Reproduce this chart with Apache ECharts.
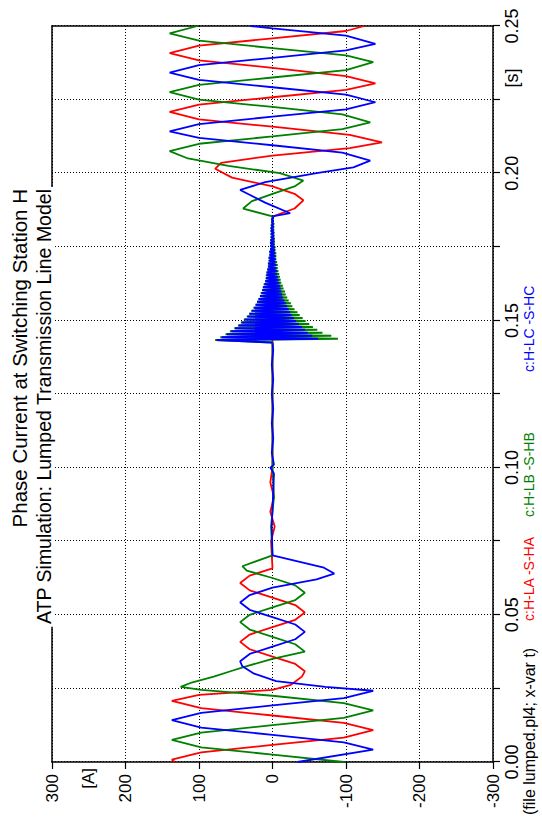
<!DOCTYPE html>
<html>
<head>
<meta charset="utf-8">
<script src="https://cdn.jsdelivr.net/npm/echarts@6/dist/echarts.min.js"></script>
<style>
html,body{margin:0;padding:0;background:#fff;overflow:hidden;}
#wrap{position:absolute;left:0;top:0;width:542px;height:820px;overflow:hidden;background:#fff;}
#chart{position:absolute;left:0;top:0;width:820px;height:542px;transform-origin:0 0;transform:translate(0,820px) rotate(-90deg);}
</style>
</head>
<body>
<div id="wrap"><div id="chart"></div></div>
<script>
// ---- texts ----
const titleLines = ['Phase Current at Switching Station H', 'ATP Simulation: Lumped Transmission Line Model'];
const legendNames = ['c:H-LA -S-HA', 'c:H-LB -S-HB', 'c:H-LC -S-HC'];
const footerText = '(file lumped.pl4; x-var t)';
const timeTickLabels = ['0.00', '0.05', '0.10', '0.15', '0.20', '0.25'];
const currentTickLabels = ['-300', '-200', '-100', '0', '100', '200', '300'];
const timeUnit = '[s]';
const currentUnit = '[A]';

// ---- phase A (red) ----
const tRed = [0,0.0008,0.0033,0.0058,0.0083,0.0108,0.0133,0.0158,0.0183,0.0208,0.0228,0.0245,0.0262,0.0275,0.029,0.0308,0.0333,0.0358,0.0383,0.0408,0.0433,0.0458,0.0483,0.0508,0.0533,0.0558,0.0583,0.0608,0.0633,0.0658,0.075,0.08,0.085,0.09,0.095,0.1,0.1433,0.145,0.15,0.1853,0.188,0.1908,0.193,0.1955,0.1985,0.2015,0.2035,0.206,0.2085,0.2105,0.213,0.2158,0.2183,0.2208,0.2233,0.2258,0.2283,0.2305,0.233,0.2358,0.2383,0.2408,0.2433,0.2458,0.2483,0.25];
const iRed = [133,137,97,0,-97,-137,-97,0,97,137,100,0,-25,-32,-40,-44,-31,0,31,44,31,0,-31,-44,-31,0,31,44,31,0,2,-3,3,-2,3,0,0,3,-2,0,-30,-42,-30,0,55,78,70,0,-105,-149,-105,0,100,140,100,0,-100,-140,-100,0,100,140,100,0,-100,-125];

// ---- phase B (green) ----
const tGreenA = [0,0.0025,0.005,0.0075,0.01,0.0125,0.015,0.0175,0.02,0.0225,0.0245,0.0255,0.027,0.029,0.031,0.0325,0.035,0.0375,0.04,0.0425,0.045,0.0475,0.05,0.0525,0.055,0.0575,0.06,0.0625,0.065,0.0665,0.0702,0.08,0.09,0.1,0.1425];
const iGreenA = [-97,0,97,137,97,0,-97,-137,-97,0,97,125,110,80,55,36,0,-44,-31,0,31,44,31,0,-31,-44,-31,0,35,41,0,2,-2,0,0];
const tGreenB = [0.1853,0.188,0.1905,0.193,0.1955,0.1975,0.2,0.2025,0.205,0.2075,0.21,0.2125,0.215,0.2173,0.22,0.2225,0.225,0.2275,0.23,0.2325,0.235,0.2377,0.24,0.2425,0.245,0.2475,0.25];
const iGreenB = [0,40,28,0,-30,-42,-10,60,115,140,100,0,-95,-133,-95,0,100,140,100,0,-100,-137,-100,0,100,140,102];

// ---- phase C (blue) ----
const tBlueA = [0,0.0042,0.0067,0.0092,0.0117,0.0142,0.0167,0.0192,0.0217,0.0242,0.0255,0.0275,0.03,0.0325,0.0342,0.0367,0.0392,0.0417,0.0442,0.0467,0.0492,0.0517,0.0542,0.0567,0.0592,0.062,0.064,0.066,0.0702,0.08,0.098,0.1,0.101,0.105,0.11,0.115,0.12,0.125,0.13,0.135,0.14,0.1425];
const iBlueA = [-34,-137,-97,0,97,137,97,0,-97,-137,-72,-5,25,41,44,31,0,-31,-44,-31,0,31,44,31,0,-60,-84,-70,0,1,-2,3,-2,1,-1,1,-1,1,-1,1,-1,0];
const tBlueB = [0.1853,0.1864,0.19,0.1943,0.197,0.2,0.202,0.2043,0.207,0.2095,0.212,0.2142,0.2167,0.2192,0.2217,0.2241,0.2267,0.2292,0.2317,0.2342,0.2367,0.2392,0.2417,0.2439,0.2467,0.2492,0.25];
const iBlueB = [0,-24,10,44,10,-60,-110,-133,-95,0,100,140,100,0,-100,-140,-100,0,100,140,100,0,-100,-140,-100,0,30];

// ---- switching transient burst (green & blue), read as alternating extremes ----
const burstT = [0.1433,0.1438,0.1443,0.1448,0.1453,0.1458,0.1463,0.1468,0.1473,0.1478,
  0.1483,0.1488,0.1493,0.1498,0.1503,0.1508,0.1513,0.1518,0.1523,0.1528,
  0.1533,0.1538,0.1543,0.1548,0.1553,0.1558,0.1563,0.1568,0.1573,0.1578,
  0.1583,0.1588,0.1593,0.1598,0.1603,0.1608,0.1613,0.1618,0.1623,0.1628,
  0.1633,0.1638,0.1643,0.1648,0.1653,0.1658,0.1663,0.1668,0.1673,0.1678,
  0.1683,0.1688,0.1693,0.1698,0.1703,0.1708,0.1713,0.1718,0.1723,0.1728,
  0.1733,0.1738,0.1743,0.1748,0.1753,0.1758,0.1763,0.1768,0.1773,0.1778,
  0.1783,0.1788,0.1793,0.1798,0.1803,0.1808,0.1813,0.1818,0.1823,0.1828,
  0.1833,0.1838,0.1843,0.1848];
const burstGreen = [78,-89,71,-80,64,-68,58,-61,52,-55,
  47,-50,43,-45,39,-41,35,-37,32,-34,
  29,-30,26,-27,23,-25,21,-22,19,-20,
  17,-18,16,-17,14,-15,13,-14,12,-12,
  10,-11,9,-10,9,-9,8,-8,7,-7,
  6,-7,6,-6,5,-5,5,-5,4,-5,
  4,-4,3,-4,3,-3,3,-3,3,-3,
  2,-2,2,-2,2,-2,2,-2,2,-2,
  1,-1,1,-1];
const burstBlue = [76,-62,69,-54,62,-48,56,-44,51,-40,
  46,-36,42,-32,38,-29,34,-26,31,-24,
  28,-22,25,-20,23,-18,21,-16,19,-14,
  17,-13,15,-12,14,-11,13,-10,11,-9,
  10,-8,9,-7,8,-6,8,-6,7,-5,
  6,-5,6,-4,5,-4,5,-4,4,-3,
  4,-3,3,-3,3,-2,3,-2,2,-2,
  2,-2,2,-2,2,-1,2,-1,1,-1,
  1,-1,1,-1];

const colors = ['#ff0000', '#008000', '#0000ff'];

function pairs(t, v) { return t.map((x, k) => [x, v[k]]); }
const redData = pairs(tRed, iRed);
const greenData = pairs(tGreenA, iGreenA).concat([[0.1433, null]], pairs(tGreenB, iGreenB));
const blueData = pairs(tBlueA, iBlueA).concat([[0.1433, null]], pairs(tBlueB, iBlueB));
const greenBurstData = [[tGreenA[tGreenA.length - 1], 0]].concat(pairs(burstT, burstGreen), [[tGreenB[0], iGreenB[0]]]);
const blueBurstData = [[tBlueA[tBlueA.length - 1], 0]].concat(pairs(burstT, burstBlue), [[tBlueB[0], iBlueB[0]]]);

const FONT = 'Liberation Sans, Arial, sans-serif';
const dotted = { color: '#000', width: 1, type: [1, 2] };

const chart = echarts.init(document.getElementById('chart'), null, { renderer: 'svg', width: 820, height: 542 });

function txt(text, x, y, size, color, align, valign, bg) {
  const style = { text: text, x: x, y: y, font: size + 'px ' + FONT, fill: color, textAlign: align, textVerticalAlign: valign, verticalAlign: valign };
  if (bg) { style.backgroundColor = '#fff'; style.padding = [0, 2, 0, 2]; }
  return { type: 'text', z: 100, style: style };
}
function lineSeries(name, data, color, width, z) {
  return { name: name, type: 'line', data: data, showSymbol: false, symbol: 'none', connectNulls: false,
    lineStyle: { color: color, width: width }, itemStyle: { color: color }, z: z };
}

chart.setOption({
  animation: false,
  backgroundColor: '#fff',
  grid: { left: 58, right: 26, top: 52, bottom: 49, containLabel: false, outerBoundsMode: 'none' },
  xAxis: [{
    type: 'value', min: 0, max: 0.25, interval: 0.025, position: 'bottom',
    axisLine: { show: true, onZero: false, lineStyle: { color: '#000', width: 1.5 } },
    axisTick: { show: true, length: 7, lineStyle: { color: '#000', width: 1.2 } },
    axisLabel: {
      color: '#000', fontSize: 18, fontFamily: FONT, margin: 10, showMinLabel: true, showMaxLabel: true,
      formatter: function (v) { const k = Math.round(v / 0.025); return k % 2 === 0 ? timeTickLabels[k / 2] : ''; }
    },
    splitLine: { show: true, lineStyle: dotted }
  }, {
    type: 'value', min: 0, max: 0.25, position: 'top',
    axisLine: { show: true, onZero: false, lineStyle: { color: '#000', width: 1.5 } },
    axisTick: { show: false }, axisLabel: { show: false }, splitLine: { show: false }
  }],
  yAxis: [{
    type: 'value', min: -300, max: 300, interval: 100, position: 'left',
    axisLine: { show: true, onZero: false, lineStyle: { color: '#000', width: 1.5 } },
    axisTick: { show: true, length: 7, lineStyle: { color: '#000', width: 1.2 } },
    axisLabel: {
      color: '#000', fontSize: 17, fontFamily: FONT, margin: 12, showMinLabel: true, showMaxLabel: true,
      formatter: function (v) { return currentTickLabels[Math.round((v + 300) / 100)]; }
    },
    splitLine: { show: true, lineStyle: dotted }
  }, {
    type: 'value', min: -300, max: 300, position: 'right',
    axisLine: { show: true, onZero: false, lineStyle: { color: '#000', width: 1.5 } },
    axisTick: { show: false }, axisLabel: { show: false }, splitLine: { show: false }
  }],
  series: [
    lineSeries(legendNames[0], redData, colors[0], 1.8, 3),
    lineSeries(legendNames[1], greenData, colors[1], 1.8, 4),
    lineSeries(legendNames[2], blueData, colors[2], 1.8, 5),
    lineSeries(legendNames[1], greenBurstData, colors[1], 2, 6),
    lineSeries(legendNames[2], blueBurstData, colors[2], 2, 7)
  ],
  graphic: [
    txt(titleLines[0], 633, 30, 20.5, '#000', 'right', 'bottom', true),
    txt(titleLines[1], 633, 54, 19.5, '#000', 'right', 'bottom', true),
    txt(currentUnit, 52, 88, 17, '#000', 'right', 'middle', false),
    txt(timeUnit, 742, 503, 18, '#000', 'center', 'top', false),
    txt(footerText, 5, 529, 16, '#000', 'left', 'middle', false),
    txt(legendNames[0], 199, 529, 14, colors[0], 'left', 'middle', false),
    txt(legendNames[1], 303, 529, 14, colors[1], 'left', 'middle', false),
    txt(legendNames[2], 448, 529, 14, colors[2], 'left', 'middle', false)
  ]
});
</script>
</body>
</html>
